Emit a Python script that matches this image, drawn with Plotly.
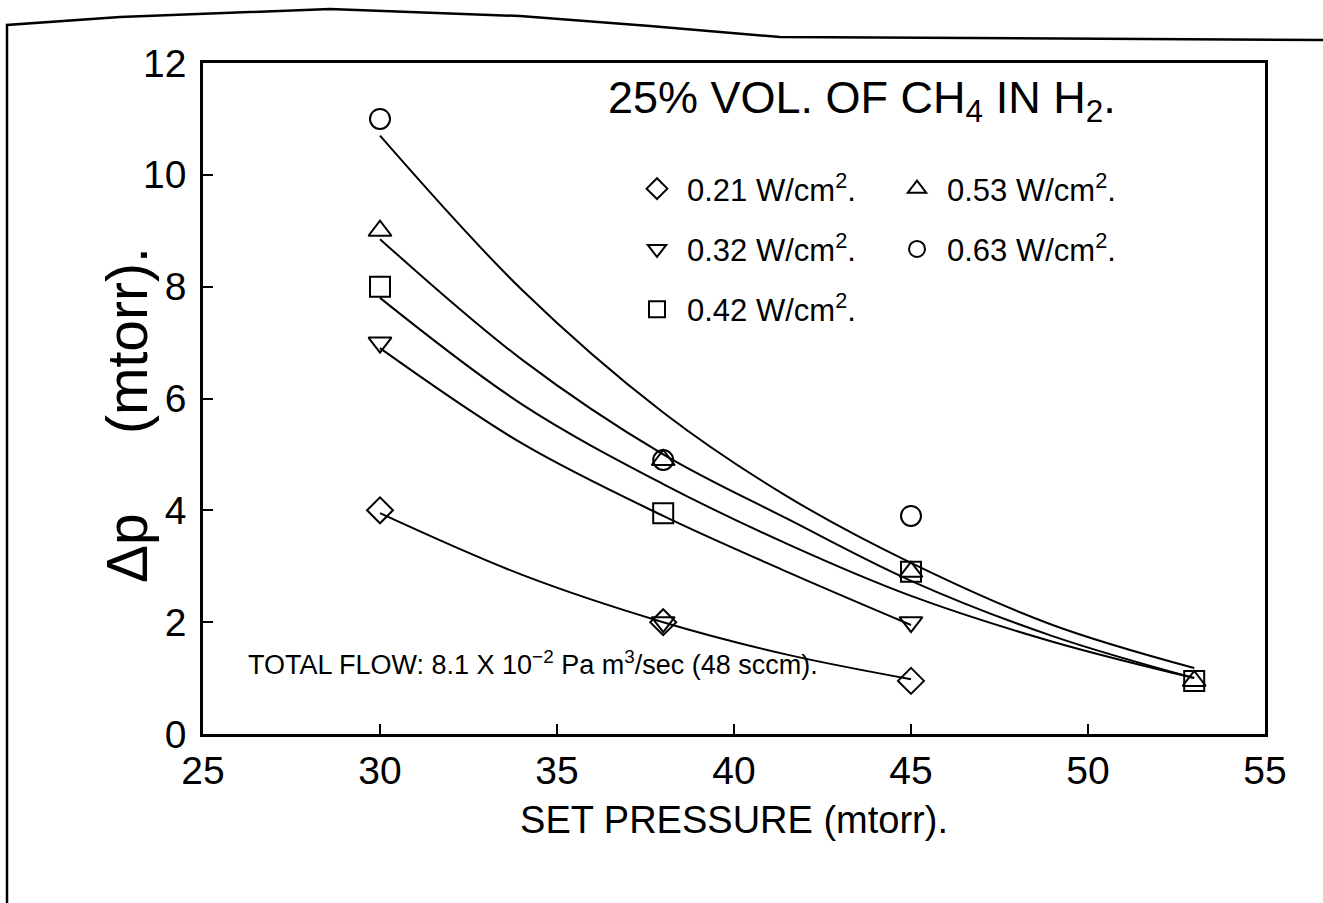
import plotly.graph_objects as go

# Measured pressure drop for each RF power density
pressure_x = [30, 38, 45, 53]
dp_021 = [4.0, 2.0, 0.95]
dp_032 = [7.0, 2.0, 2.0]
dp_042 = [8.0, 3.95, 2.9, 0.95]
dp_053 = [9.0, 4.9, 2.9, 0.95]
dp_063 = [11.0, 4.9, 3.9]

# Smoothed fit curves
fit_x = [30, 34, 38, 41.5, 45, 49, 53]
fit_021 = [3.95, 2.85, 2.0, 1.42, 0.98]
fit_032 = [6.9, 5.2, 3.9, 2.9, 1.95]
fit_042 = [7.8, 5.9, 4.47, 3.4, 2.47, 1.65, 1.0]
fit_053 = [8.85, 6.7, 5.0, 3.85, 2.74, 1.75, 1.0]
fit_063 = [10.7, 7.95, 5.75, 4.25, 3.06, 1.95, 1.18]

series = [
    ("0.21", dp_021, fit_021, "diamond-open", "legend"),
    ("0.32", dp_032, fit_032, "triangle-down-open", "legend"),
    ("0.42", dp_042, fit_042, "square-open", "legend"),
    ("0.53", dp_053, fit_053, "triangle-up-open", "legend2"),
    ("0.63", dp_063, fit_063, "circle-open", "legend2"),
]

W, H = 1323, 903
L, R, T, B = 203, 58, 63, 169
PW, PH = W - L - R, H - T - B

def px(x):
    return (x - L) / PW

def py(y):
    return (H - B - y) / PH

FONT = "Liberation Sans, Arial, sans-serif"

fig = go.Figure()

for name, ys, fy, sym, leg in series:
    fig.add_trace(go.Scatter(
        x=fit_x[:len(fy)], y=fy, mode="lines", line=dict(color="black", width=2, shape="spline"),
        showlegend=False, hoverinfo="skip"))

for name, ys, fy, sym, leg in series:
    fig.add_trace(go.Scatter(
        x=pressure_x[:len(ys)], y=ys, mode="markers",
        marker=dict(symbol=sym, size=20, color="black", line=dict(color="black", width=2)),
        name=f"{name} W/cm<sup>2</sup>.", legend=leg, legendgroup=name))

fig.update_xaxes(range=[25, 55], tickvals=[25, 30, 35, 40, 45, 50, 55], ticks="inside", ticklen=10,
                 tickwidth=2, tickcolor="black", showline=True, linecolor="black", linewidth=2.5,
                 mirror=True, showgrid=False, zeroline=False,
                 tickfont=dict(family=FONT, size=39, color="black"),
                 title=dict(text="SET PRESSURE (mtorr).", font=dict(family=FONT, size=38, color="black"),
                            standoff=16))
fig.update_yaxes(range=[0, 12], tickvals=[0, 2, 4, 6, 8, 10, 12], ticks="inside", ticklen=10,
                 tickwidth=2, tickcolor="black", showline=True, linecolor="black", linewidth=2.5,
                 mirror=True, showgrid=False, zeroline=False, ticklabelstandoff=6,
                 tickfont=dict(family=FONT, size=39, color="black"))

legend_common = dict(font=dict(family=FONT, size=31, color="black"), bgcolor="rgba(0,0,0,0)",
                     traceorder="grouped", tracegroupgap=17, itemsizing="trace", itemwidth=50,
                     xanchor="left", yanchor="top")
fig.update_layout(
    width=W, height=H,
    margin=dict(l=L, r=R, t=T, b=B),
    paper_bgcolor="white", plot_bgcolor="white",
    showlegend=True,
    legend=dict(x=px(627), y=py(162), **legend_common),
    legend2=dict(x=px(887), y=py(162), **legend_common),
    annotations=[
        # y-axis title placed as a rotated annotation
        dict(text="\u0394p     (mtorr).", x=px(127), y=py(415), xref="paper", yref="paper",
             xanchor="center", yanchor="middle",
             textangle=-90, showarrow=False, font=dict(family=FONT, size=57, color="black")),
        dict(text="25% VOL. OF CH<sub>4</sub> IN H<sub>2</sub>.", x=px(862), y=py(70), xref="paper",
             yref="paper", showarrow=False, font=dict(family=FONT, size=45, color="black")),
        dict(text="TOTAL FLOW: 8.1 X 10<sup>\u22122</sup> Pa m<sup>3</sup>/sec (48 sccm).",
             x=px(246), y=py(682), xref="paper", yref="paper", xanchor="left", showarrow=False,
             font=dict(family=FONT, size=27, color="black")),
    ],
    shapes=[
        dict(type="path", xref="paper", yref="paper",
             path="M {},{} L {},{} L {},{} L {},{} L {},{} L {},{} L {},{} L {},{}".format(
                 px(7), py(903), px(7), py(25), px(120), py(17), px(330), py(9), px(520), py(16),
                 px(650), py(26), px(780), py(37), px(1323), py(40)),
             line=dict(color="black", width=2.5)),
    ],
)

fig.write_html("out.html")
